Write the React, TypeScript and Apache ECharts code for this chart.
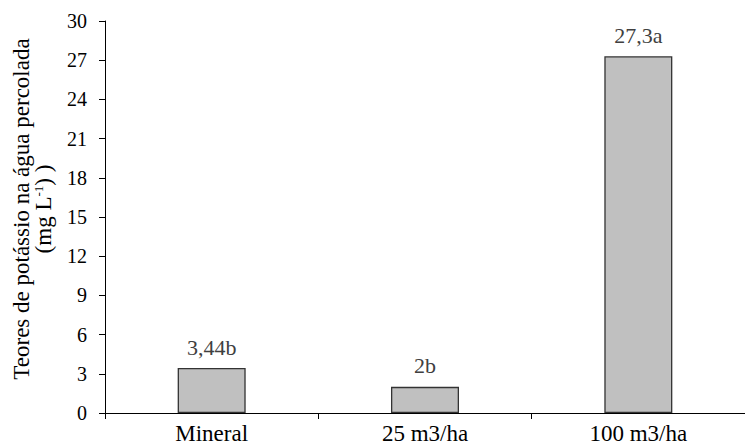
import React, { useEffect, useRef } from "react";
import * as echarts from "echarts";

const categories = ["Mineral", "25 m3/ha", "100 m3/ha"];
const values = [3.44, 2, 27.3];
const valueLabels = ["3,44b", "2b", "27,3a"];
const yTicks = [0, 3, 6, 9, 12, 15, 18, 21, 24, 27, 30];

export default function App() {
  const ref = useRef<HTMLDivElement>(null);
  useEffect(() => {
    if (!ref.current) return;
    const chart = echarts.init(ref.current, undefined, { renderer: "svg" });
    const font = "Liberation Serif";
    chart.setOption({
      animation: false,
      textStyle: { fontFamily: font },
      grid: { left: 105, right: -10, top: 21, bottom: 32, containLabel: false },
      xAxis: {
        type: "category",
        data: categories,
        axisLine: { lineStyle: { color: "#000", width: 1 } },
        axisTick: { show: true, alignWithLabel: false, length: 6, lineStyle: { color: "#000" } },
        axisLabel: { color: "#000", fontSize: 23, fontFamily: font, margin: 9 },
        splitLine: { show: false },
      },
      yAxis: {
        type: "value",
        min: yTicks[0],
        max: yTicks[yTicks.length - 1],
        interval: 3,
        axisLine: { show: true, lineStyle: { color: "#000", width: 1 } },
        axisTick: { show: true, length: 6, lineStyle: { color: "#000" } },
        axisLabel: { color: "#000", fontSize: 20, fontFamily: font, margin: 18 },
        splitLine: { show: false },
        name: "Teores de potássio na água percolada\n(mg L{sup|-1}) )",
        nameLocation: "middle",
        nameRotate: 90,
        nameGap: 51,
        nameTextStyle: {
          color: "#000",
          fontSize: 23,
          fontFamily: font,
          lineHeight: 22,
          padding: [0, 0, 0, 16],
          rich: {
            sup: { fontSize: 13, verticalAlign: "top", lineHeight: 22, fontFamily: font, color: "#000" },
          },
        },
      },
      series: [
        {
          type: "bar",
          data: values,
          barWidth: 68,
          itemStyle: { color: "#c0c0c0", borderColor: "#333", borderWidth: 1.3 },
          label: {
            show: true,
            position: "top",
            distance: 10,
            color: "#404040",
            fontSize: 22,
            fontFamily: font,
            formatter: (p: any) => valueLabels[p.dataIndex],
          },
        },
      ],
    });
    return () => chart.dispose();
  }, []);
  return <div ref={ref} style={{ width: 745, height: 445, position: "absolute", left: 0, top: 0 }} />;
}
